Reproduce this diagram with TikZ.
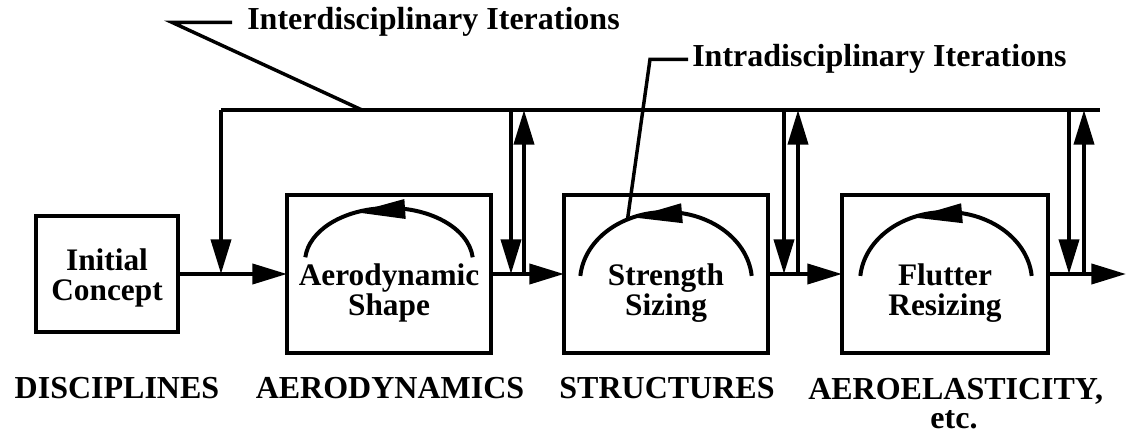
\documentclass[tikz,border=0pt]{standalone}
\usepackage{fontspec}
\setmainfont{Liberation Serif}
\usetikzlibrary{arrows.meta,calc}
\begin{document}
\begin{tikzpicture}[x=0.75pt,y=0.75pt,
 box/.style={draw,line width=3pt,inner sep=0pt,outer sep=0pt},
 ln/.style={line width=3pt},
 flow/.style={line width=3pt,-{Triangle[length=26pt,width=15pt]}},
 leader/.style={line width=2.6pt},
 lab/.style={font=\fontsize{24}{24}\selectfont\bfseries,inner ysep=0pt,inner xsep=0pt},
 blab/.style={font=\fontsize{23.5}{22.5}\selectfont\bfseries,align=center,inner sep=0pt},
]
\useasboundingbox (0,0) rectangle (1127,-434);
% boxes
\node[box,minimum width=106.5pt,minimum height=87pt] (init) at (107,-274) {};
\node[box,minimum width=153pt,minimum height=117.75pt] (aero) at (389,-274) {};
\node[box,minimum width=153pt,minimum height=117.75pt] (stru) at (666,-274) {};
\node[box,minimum width=154.5pt,minimum height=117.75pt] (flut) at (945,-274) {};
% box labels
\node[blab] (tinit) at (107,-278) {Initial\\Concept};
\node[blab] (taero) at (389,-293) {Aerodynamic\\Shape};
\node[blab] (tstru) at (666,-293) {Strength\\Sizing};
\node[blab] (tflut) at (945,-293) {Flutter\\Resizing};
% arcs
\coordinate (ac) at (389,-262);
\draw[ln] ($(ac)+(5:63pt and 40.5pt)$) arc[start angle=5,end angle=175,x radius=63pt,y radius=40.5pt];
\coordinate (aT) at ($(ac)+(113:63pt and 40.5pt)$);
\coordinate (aB) at ($(ac)+(79:63pt and 40.5pt)$);
\fill (aT) -- ($(aB)!7.5pt!90:(aT)$) -- ($(aB)!7.5pt!-90:(aT)$) -- cycle;
\coordinate (sc) at (666,-282);
\draw[ln] ($(sc)+(5:64.5pt and 52.5pt)$) arc[start angle=5,end angle=175,x radius=64.5pt,y radius=52.5pt];
\coordinate (sT) at ($(sc)+(112.6:64.5pt and 52.5pt)$);
\coordinate (sB) at ($(sc)+(79.3:64.5pt and 52.5pt)$);
\fill (sT) -- ($(sB)!7.5pt!90:(sT)$) -- ($(sB)!7.5pt!-90:(sT)$) -- cycle;
\coordinate (sj) at ($(sc)+(116.6:64.5pt and 52.5pt)$);
\coordinate (fc) at (946,-282);
\draw[ln] ($(fc)+(5:64.5pt and 52.5pt)$) arc[start angle=5,end angle=175,x radius=64.5pt,y radius=52.5pt];
\coordinate (fT) at ($(fc)+(112.6:64.5pt and 52.5pt)$);
\coordinate (fB) at ($(fc)+(79.3:64.5pt and 52.5pt)$);
\fill (fT) -- ($(fB)!7.5pt!90:(fT)$) -- ($(fB)!7.5pt!-90:(fT)$) -- cycle;
% main flow
\coordinate (out) at (1126,-274);
\draw[flow] (init.east) -- (aero.west);
\draw[flow] (aero.east) -- (stru.west);
\draw[flow] (stru.east) -- (flut.west);
\draw[flow] (flut.east) -- (out);
% top loop line
\coordinate (tl) at (221,-110);
\coordinate (tr) at (1100,-110);
\draw[ln] (tl) -- (tr);
\draw[flow] (tl) -- (tl |- init.east);
\coordinate (ad) at (511,-110);
\coordinate (au) at (524,-110);
\draw[flow] (ad) -- (ad |- aero.east);
\draw[flow] (au |- aero.east) -- (au);
\coordinate (sd) at (784,-110);
\coordinate (su) at (798,-110);
\draw[flow] (sd) -- (sd |- stru.east);
\draw[flow] (su |- stru.east) -- (su);
\coordinate (fd) at (1069,-110);
\coordinate (fu) at (1084,-110);
\draw[flow] (fd) -- (fd |- flut.east);
\draw[flow] (fu |- flut.east) -- (fu);
% leader labels
\node[lab,anchor=base west,inner xsep=11.25pt] (inter) at (232,-30) {Interdisciplinary Iterations};
\coordinate (k1) at ($(inter.west)+(-60,0)$);
\coordinate (k2) at (362,-110);
\draw[leader] (inter.west) -- (k1) -- (k2);
\node[lab,anchor=base west,inner xsep=3pt] (intra) at (688,-67) {Intradisciplinary Iterations};
\coordinate (j1) at ($(intra.west)+(-38,0)$);
\draw[leader] (intra.west) -- (j1) -- (sj);
% bottom labels
\node[lab,anchor=base] (dis) at (117,-398) {DISCIPLINES};
\node[lab,anchor=base] (aer) at (390,-398) {AERODYNAMICS};
\node[lab,anchor=base] (str) at (667,-398) {STRUCTURES};
\node[lab,anchor=base west] (ael) at (808,-399) {AEROELASTICITY,};
\node[lab,anchor=base] (etc) at (954,-428) {etc.};
\end{tikzpicture}
\end{document}
